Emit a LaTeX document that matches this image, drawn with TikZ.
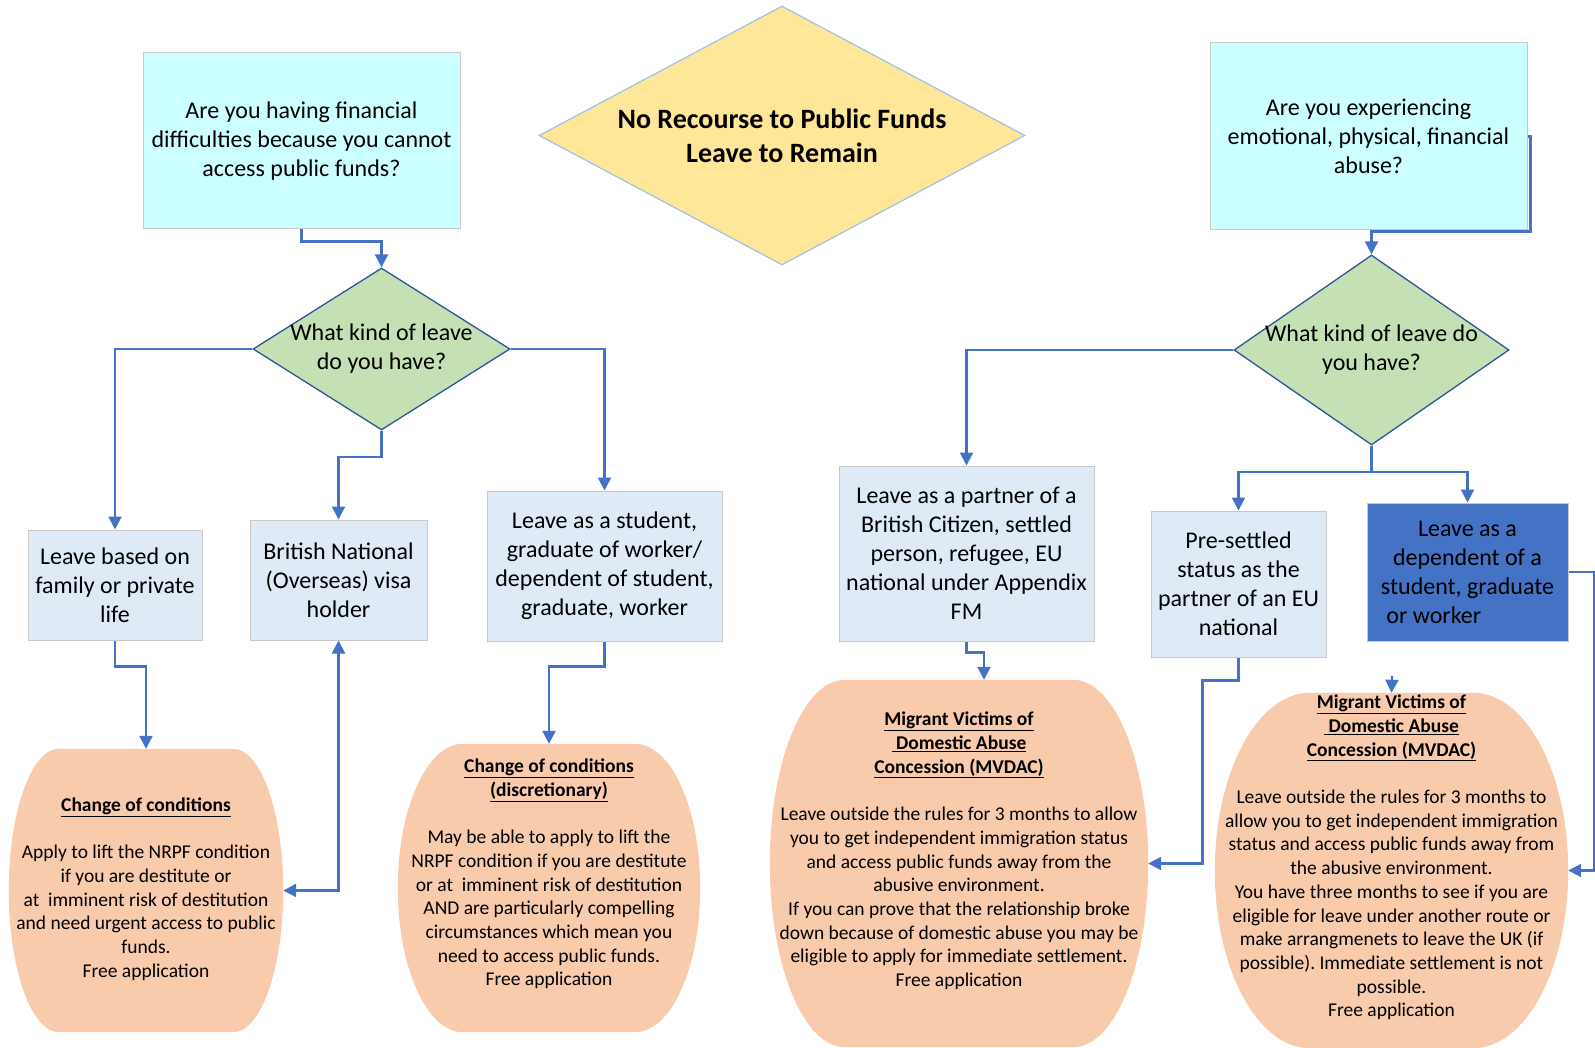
\documentclass[tikz,border=0pt]{standalone}
\usepackage{fontspec}
\setmainfont{Carlito}
\usepackage{calc}
\usetikzlibrary{shapes.geometric,arrows.meta,calc}
\frenchspacing
\definecolor{cyanfill}{HTML}{CCFFFF}
\definecolor{lbfill}{HTML}{DEEBF7}
\definecolor{dbfill}{HTML}{4472C4}
\definecolor{greenfill}{HTML}{C5E0B4}
\definecolor{yellowfill}{HTML}{FFE699}
\definecolor{peachc}{HTML}{F8CBAD}
\definecolor{graybd}{HTML}{C9C9C9}
\definecolor{diabd}{HTML}{2F5597}
\definecolor{titlebd}{HTML}{9DC3E6}
\definecolor{arrowc}{HTML}{4472C4}
\tikzset{
  boxtxt/.style={font=\fontsize{24pt}{29pt}\selectfont, align=center, text=black},
  qbox/.style={boxtxt, rectangle, fill=cyanfill, draw=graybd, line width=1pt, inner sep=0pt},
  lbox/.style={boxtxt, rectangle, fill=lbfill, draw=graybd, line width=1pt, inner sep=0pt},
  dkbox/.style={boxtxt, rectangle, fill=dbfill, draw=graybd, line width=1pt, inner sep=0pt},
  dia/.style={diamond, fill=greenfill, draw=diabd, line width=1.3pt, inner sep=0pt},
  titledia/.style={diamond, fill=yellowfill, draw=titlebd, line width=1.2pt, inner sep=0pt},
  ovalbox/.style={rectangle, inner sep=0pt, draw=none},
  ovaltxt/.style={font=\fontsize{19.5pt}{23.7pt}\selectfont, align=center, text=black, inner sep=0pt},
  arr/.style={draw=arrowc, line width=2.2pt, -{Triangle[width=13pt,length=13pt]}},
  biarr/.style={draw=arrowc, line width=2.2pt, {Triangle[width=13pt,length=13pt]}-{Triangle[width=13pt,length=13pt]}},
}
\newcommand\peachoval[2]{%
 \fill[peachc]
  ($(#1.north west)+(#2,0)$) -- ($(#1.north east)+(-#2,0)$)
  .. controls ($(#1.north east)+(-0.448*#2,0)$) and ($(#1.north east)!0.448!(#1.east)$) .. (#1.east)
  .. controls ($(#1.south east)!0.448!(#1.east)$) and ($(#1.south east)+(-0.448*#2,0)$) .. ($(#1.south east)+(-#2,0)$)
  -- ($(#1.south west)+(#2,0)$)
  .. controls ($(#1.south west)+(0.448*#2,0)$) and ($(#1.south west)!0.448!(#1.west)$) .. (#1.west)
  .. controls ($(#1.north west)!0.448!(#1.west)$) and ($(#1.north west)+(0.448*#2,0)$) .. cycle;}
\begin{document}
\begin{tikzpicture}[x=1pt,y=-1pt]
\useasboundingbox (0,0) rectangle (1595,1048);

% title diamond
\node[titledia, minimum width=486pt, minimum height=259pt,
  label={[boxtxt, font=\fontsize{28pt}{34pt}\selectfont\bfseries]center:No Recourse to Public Funds\\Leave to Remain}] (title) at (782,135.5) {};

% question boxes
\node[qbox, minimum width=317pt, minimum height=176pt] (qa) at (301.5,141) {Are you having financial\\difficulties because you cannot\\access public funds?};
\node[qbox, minimum width=317pt, minimum height=187pt] (qb) at (1368.5,136.5) {Are you experiencing\\emotional, physical, financial\\abuse?};

% decision diamonds
\node[dia, minimum width=257pt, minimum height=162pt,
  label={[boxtxt]center:What kind of leave\\do you have?}] (d1) at (381.5,349) {};
\node[dia, minimum width=275pt, minimum height=190pt,
  label={[boxtxt]center:What kind of leave do\\you have?}] (d2) at (1371.5,350) {};

% leave boxes
\node[lbox, minimum width=174pt, minimum height=110pt] (l1) at (115,585) {Leave based on\\family or private\\life};
\node[lbox, minimum width=177pt, minimum height=120pt] (l2) at (338.5,580) {British National\\(Overseas) visa\\holder};
\node[lbox, minimum width=235pt, minimum height=150pt] (l3) at (604.5,566) {Leave as a student,\\graduate of worker/\\dependent of student,\\graduate, worker};
\node[lbox, minimum width=255pt, minimum height=175pt] (r1) at (966.5,553.5) {Leave as a partner of a\\British Citizen, settled\\person, refugee, EU\\national under Appendix\\FM};
\node[lbox, minimum width=175pt, minimum height=146pt] (r2) at (1238.5,584) {Pre-settled\\status as the\\partner of an EU\\national};
\node[dkbox, minimum width=201pt, minimum height=138pt] (r3) at (1467.5,572) {Leave as a\\dependent of a\\student, graduate\\\makebox[\widthof{student, graduate}][l]{ or worker}};

% outcome ovals (frames)
\node[ovalbox, minimum width=274pt, minimum height=283pt] (o1) at (146,890.5) {};
\node[ovalbox, minimum width=302pt, minimum height=288pt] (o2) at (549,888) {};
\node[ovalbox, minimum width=378pt, minimum height=367pt] (o3) at (959,863.5) {};
\node[ovalbox, minimum width=353pt, minimum height=355pt] (o4) at (1391.5,870.5) {};
\peachoval{o1}{50}
\peachoval{o2}{65}
\peachoval{o3}{75}
\peachoval{o4}{95}

\node[ovaltxt] (o1t) at (146,889) {\underline{\textbf{Change of conditions}}\\[23.7pt]
Apply to lift the NRPF condition\\if you are destitute or\\at~ imminent risk of destitution\\and need urgent access to public\\funds.\\Free application};
\node[ovaltxt] (o2t) at (549,874) {\underline{\textbf{Change of conditions}}\\\underline{\textbf{(discretionary)}}\\[23.7pt]
May be able to apply to lift the\\NRPF condition if you are destitute\\or at~ imminent risk of destitution\\AND are particularly compelling\\circumstances which mean you\\need to access public funds.\\Free application};
\node[ovaltxt] (o3t) at (959,851) {\underline{\textbf{Migrant Victims of}}\\\underline{\textbf{\ Domestic Abuse}}\\\underline{\textbf{Concession (MVDAC)}}\\[23.7pt]
Leave outside the rules for 3 months to allow\\you to get independent immigration status\\and access public funds away from the\\abusive environment.\\If you can prove that the relationship broke\\down because of domestic abuse you may be\\eligible to apply for immediate settlement.\\Free application};
\node[ovaltxt] (o4t) at (1391.5,857.5) {\underline{\textbf{Migrant Victims of}}\\\underline{\textbf{\ Domestic Abuse}}\\\underline{\textbf{Concession (MVDAC)}}\\[23.7pt]
Leave outside the rules for 3 months to\\allow you to get independent immigration\\status and access public funds away from\\the abusive environment.\\You have three months to see if you are\\eligible for leave under another route or\\make arrangmenets to leave the UK (if\\possible). Immediate settlement is not\\possible.\\Free application};

\coordinate (o4in) at (1392,676);

% connectors
\draw[arr] (qa.south) -- ++(0,12) -| (d1.north);
\draw[arr] (qb.east) -- ++(3,0) -- ++(0,95) -| (d2.north);
\draw[arr] (d1.west) -| (l1.north);
\draw[arr] (d1.south) -- ++(0,26) -| (l2.north);
\draw[arr] (d1.east) -| (l3.north);
\draw[arr] (l1.south) -- ++(0,26) -| (o1.north);
\draw[biarr] (l2.south) |- (o1.east);
\draw[arr] (l3.south) -- ++(0,25) -| (o2.north);
\draw[arr] (d2.west) -| (r1.north);
\draw[arr] (d2.south) -- ++(0,26) -| (r2.north);
\draw[arr] (d2.south) -- ++(0,26) -| (r3.north);
\draw[arr] (r1.south) -- ++(0,11) -| ($(o3.north)+(25,0)$);
\draw[arr] (r2.south) -- ++(0,23) -- ++(-36,0) |- (o3.east);
\draw[arr] (r3.east) -- ++(26,0) |- (o4.east);
\draw[arr] (o4in) -- (o4.north);
\end{tikzpicture}
\end{document}
